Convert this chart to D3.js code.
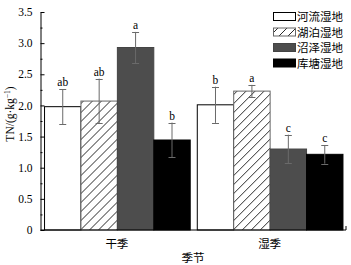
<!DOCTYPE html>
<html><head><meta charset="utf-8">
<script src="https://cdn.jsdelivr.net/npm/d3@7/dist/d3.min.js"></script>
<style>
html,body{margin:0;padding:0;background:#fff;}
svg{display:block;}
text{font-family:"Liberation Serif","Times New Roman","Noto Sans CJK SC",serif;fill:#000;}
</style></head>
<body>
<script>
const seasons = ["干季", "湿季"];
const wetlands = ["河流湿地", "湖泊湿地", "沼泽湿地", "库塘湿地"];
const means = [[1.98, 2.07, 2.93, 1.445], [2.01, 2.23, 1.30, 1.215]];
const errors = [[0.28, 0.36, 0.25, 0.28], [0.29, 0.10, 0.23, 0.15]];
const letters = [["ab", "ab", "a", "b"], ["b", "a", "c", "c"]];
const yTicks = [0, 0.5, 1.0, 1.5, 2.0, 2.5, 3.0, 3.5];
const yMinor = [0.25, 0.75, 1.25, 1.75, 2.25, 2.75, 3.25];

const W = 351, H = 265;
const m = {l: 40.5, r: 5, t: 12, b: 35};
const svg = d3.select("body").append("svg").attr("width", W).attr("height", H);

const defs = svg.append("defs");
const P = 9;
const pat = defs.append("pattern").attr("id", "hatch").attr("patternUnits", "userSpaceOnUse")
  .attr("width", P).attr("height", P);
pat.append("rect").attr("width", P).attr("height", P).attr("fill", "#fff");
pat.append("path").attr("d", `M-2,2 L2,-2 M0,${P} L${P},0 M${P-2},${P+2} L${P+2},${P-2}`).attr("stroke", "#111").attr("stroke-width", 0.9);

const fills = ["#fff", "url(#hatch)", "#4d4d4d", "#000"];
const strokes = ["#000", "#666", "#444", "#000"];

const x0 = d3.scaleBand().domain(seasons).range([m.l, 346]).paddingInner(0).paddingOuter(0);
const x1 = d3.scaleBand().domain(wetlands).range([0, x0.bandwidth()]).paddingOuter(0.097).paddingInner(0);
const y = d3.scaleLinear().domain([0, 3.5]).range([230, 12]);

const g = svg.append("g");
seasons.forEach((s, i) => {
  const gg = g.append("g").attr("transform", `translate(${x0(s)},0)`);
  wetlands.forEach((w, j) => {
    const v = means[i][j], e = errors[i][j];
    const bx = x1(w), bw = x1.bandwidth();
    gg.append("rect").attr("x", bx + 0.5).attr("y", y(v)).attr("width", bw)
      .attr("height", y(0) - y(v)).attr("fill", fills[j]).attr("stroke", strokes[j]).attr("stroke-width", 1);
    const cx = bx + bw / 2 + 0.5;
    const ec = "#6a6a6a";
    gg.append("line").attr("x1", cx).attr("x2", cx).attr("y1", y(v + e)).attr("y2", y(v - e)).attr("stroke", ec).attr("stroke-width", 1);
    [v + e, v - e].forEach(t => gg.append("line").attr("x1", cx - 3.5).attr("x2", cx + 3.5)
      .attr("y1", Math.round(y(t)) + 0.5).attr("y2", Math.round(y(t)) + 0.5).attr("stroke", ec).attr("stroke-width", 1));
    gg.append("text").attr("x", cx).attr("y", y(v + e) - 3).attr("text-anchor", "middle")
      .attr("font-size", 11.5).text(letters[i][j]);
  });
});

// y axis
const yAxis = d3.axisLeft(y).tickValues(yTicks).tickSizeInner(-4).tickSizeOuter(0).tickPadding(8)
  .tickFormat(d => d === 0 ? "0" : d3.format(".1f")(d));
const ya = svg.append("g").attr("transform", `translate(${m.l},0)`).call(yAxis);
ya.select(".domain").attr("stroke", "#000");
ya.selectAll(".tick line").attr("stroke", "#000");
ya.selectAll("text").attr("font-size", 11.5).attr("font-family", "Liberation Serif, serif").attr("fill", "#333");
const yMin = d3.axisLeft(y).tickValues(yMinor).tickSizeInner(-2).tickSizeOuter(0).tickFormat("");
const ym = svg.append("g").attr("transform", `translate(${m.l},0)`).call(yMin);
ym.select(".domain").remove();

// x axis
const xAxis = d3.axisBottom(x0).tickSize(0).tickPadding(10);
const xa = svg.append("g").attr("transform", `translate(0,230)`).call(xAxis);
xa.select(".domain").attr("d", `M${m.l},0H346V-4`).attr("stroke", "#000");
xa.selectAll("text").attr("font-size", 11.5).attr("font-family", "Noto Sans CJK SC, sans-serif").attr("fill", "#222");

svg.append("text").attr("x", 193).attr("y", 262).attr("text-anchor", "middle")
  .attr("font-size", 11.5).attr("font-family", "Noto Sans CJK SC, sans-serif").attr("fill", "#222").text("季节");

// y title
const yt = svg.append("text").attr("transform", "translate(14,114) rotate(-90)").attr("text-anchor", "middle")
  .attr("font-size", 11.5).attr("font-family", "Liberation Serif, serif").attr("fill", "#222");
yt.append("tspan").text("TN/(g·kg");
yt.append("tspan").attr("font-size", 7.5).attr("dy", -4).text("−1");
yt.append("tspan").attr("dy", 4).text(")");

// legend
const lg = svg.append("g");
const lgY = d3.scalePoint().domain(wetlands).range([16.5, 63]);
wetlands.forEach((w, j) => {
  lg.append("rect").attr("x", 273.5).attr("y", lgY(w) - 4).attr("width", 22).attr("height", 8)
    .attr("fill", fills[j]).attr("stroke", j === 0 ? "#000" : strokes[j]).attr("stroke-width", 1);
  lg.append("text").attr("x", 297).attr("y", lgY(w) + 4.5).attr("font-size", 11.5)
    .attr("font-family", "Noto Sans CJK SC, sans-serif").attr("fill", "#222").text(w);
});
</script>
</body></html>
